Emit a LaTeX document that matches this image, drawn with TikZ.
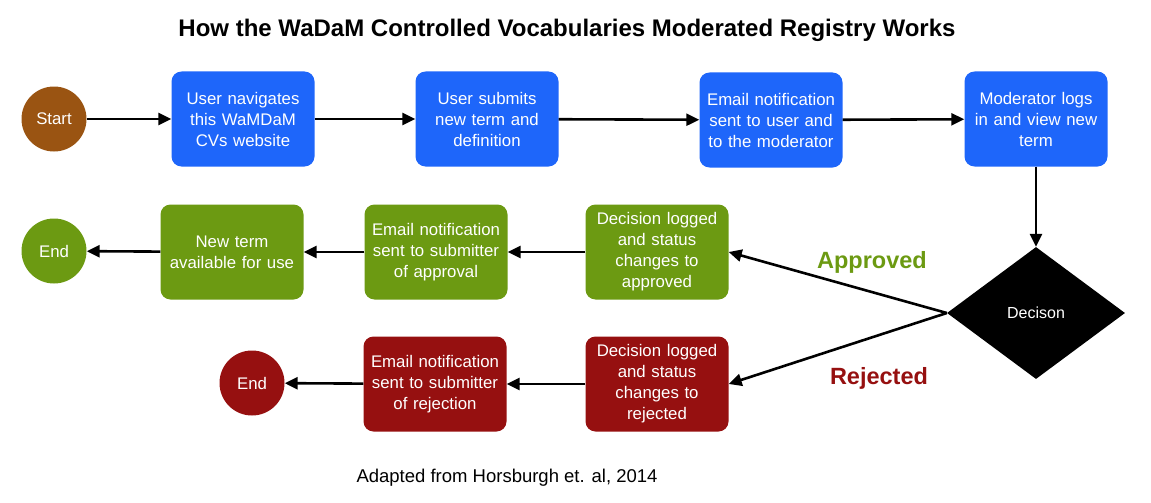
\documentclass[tikz,border=0pt]{standalone}
\usepackage{fontspec}
\setmainfont{Liberation Sans}
\usetikzlibrary{shapes.geometric,arrows.meta}
\definecolor{cblue}{RGB}{30,102,250}
\definecolor{cgreen}{RGB}{108,154,18}
\definecolor{cred}{RGB}{150,16,16}
\definecolor{cbrown}{RGB}{154,84,18}
\begin{document}
\begin{tikzpicture}[x=1pt,y=-1pt,
  box/.style={rounded corners=10pt, minimum width=143pt, minimum height=95pt,
    text width=138pt, align=center, text=white, inner sep=0pt,
    font=\fontsize{16.8}{21}\selectfont},
  circ/.style={circle, minimum size=65pt, inner sep=0pt, text=white,
    font=\fontsize{16.8}{21}\selectfont},
  arr/.style={line width=2.6pt, -{Triangle[length=13pt,width=12pt]}},
  lbl/.style={font=\fontsize{23.5}{26}\selectfont\bfseries}]
\useasboundingbox (0,0) rectangle (1151,503);
\node[font=\fontsize{24}{27}\selectfont\bfseries] (title) at (567,30) {How the WaDaM Controlled Vocabularies Moderated Registry Works};
\node[circ, fill=cbrown] (start) at (54,119) {Start};
\node[box, fill=cblue] (b1) at (243,119) {User navigates\\this WaMDaM\\CVs website};
\node[box, fill=cblue] (b2) at (487,119) {User submits\\new term and\\definition};
\node[box, fill=cblue] (b3) at (771,120) {Email notification\\sent to user and\\to the moderator};
\node[box, fill=cblue] (b4) at (1036,119) {Moderator logs\\in and view new\\term};
\node[diamond, fill=black, minimum width=178pt, minimum height=132pt, inner sep=0pt,
  text=white, font=\fontsize{16}{20}\selectfont] (dec) at (1036,313) {Decison};
\node[box, fill=cgreen] (g3) at (657,252) {Decision logged\\and status\\changes to\\approved};
\node[box, fill=cgreen] (g2) at (436,252) {Email notification\\sent to submitter\\of approval};
\node[box, fill=cgreen] (g1) at (232,252) {New term\\available for use};
\node[circ, fill=cgreen] (end1) at (54,251) {End};
\node[box, fill=cred] (r2) at (657,384) {Decision logged\\and status\\changes to\\rejected};
\node[box, fill=cred] (r1) at (435,384) {Email notification\\sent to submitter\\of rejection};
\node[circ, fill=cred] (end2) at (252,383) {End};
\node[lbl, text=cgreen] (appr) at (872,262) {Approved};
\node[lbl, text=cred] (rej) at (879,378) {Rejected};
\node[font=\fontsize{18.5}{22}\selectfont] (cap) at (507,478) {Adapted from Horsburgh et. al, 2014};
\draw[arr] (start) -- (b1);
\draw[arr] (b1) -- (b2);
\draw[arr] (b2) -- (b3);
\draw[arr] (b3) -- (b4);
\draw[arr] (b4) -- (dec.north);
\draw[arr] (dec.west) -- (g3.east);
\draw[arr] (dec.west) -- (r2.east);
\draw[arr] (g3) -- (g2);
\draw[arr] (g2) -- (g1);
\draw[arr] (g1) -- (end1);
\draw[arr] (r2) -- (r1);
\draw[arr] (r1) -- (end2);
\end{tikzpicture}
\end{document}
